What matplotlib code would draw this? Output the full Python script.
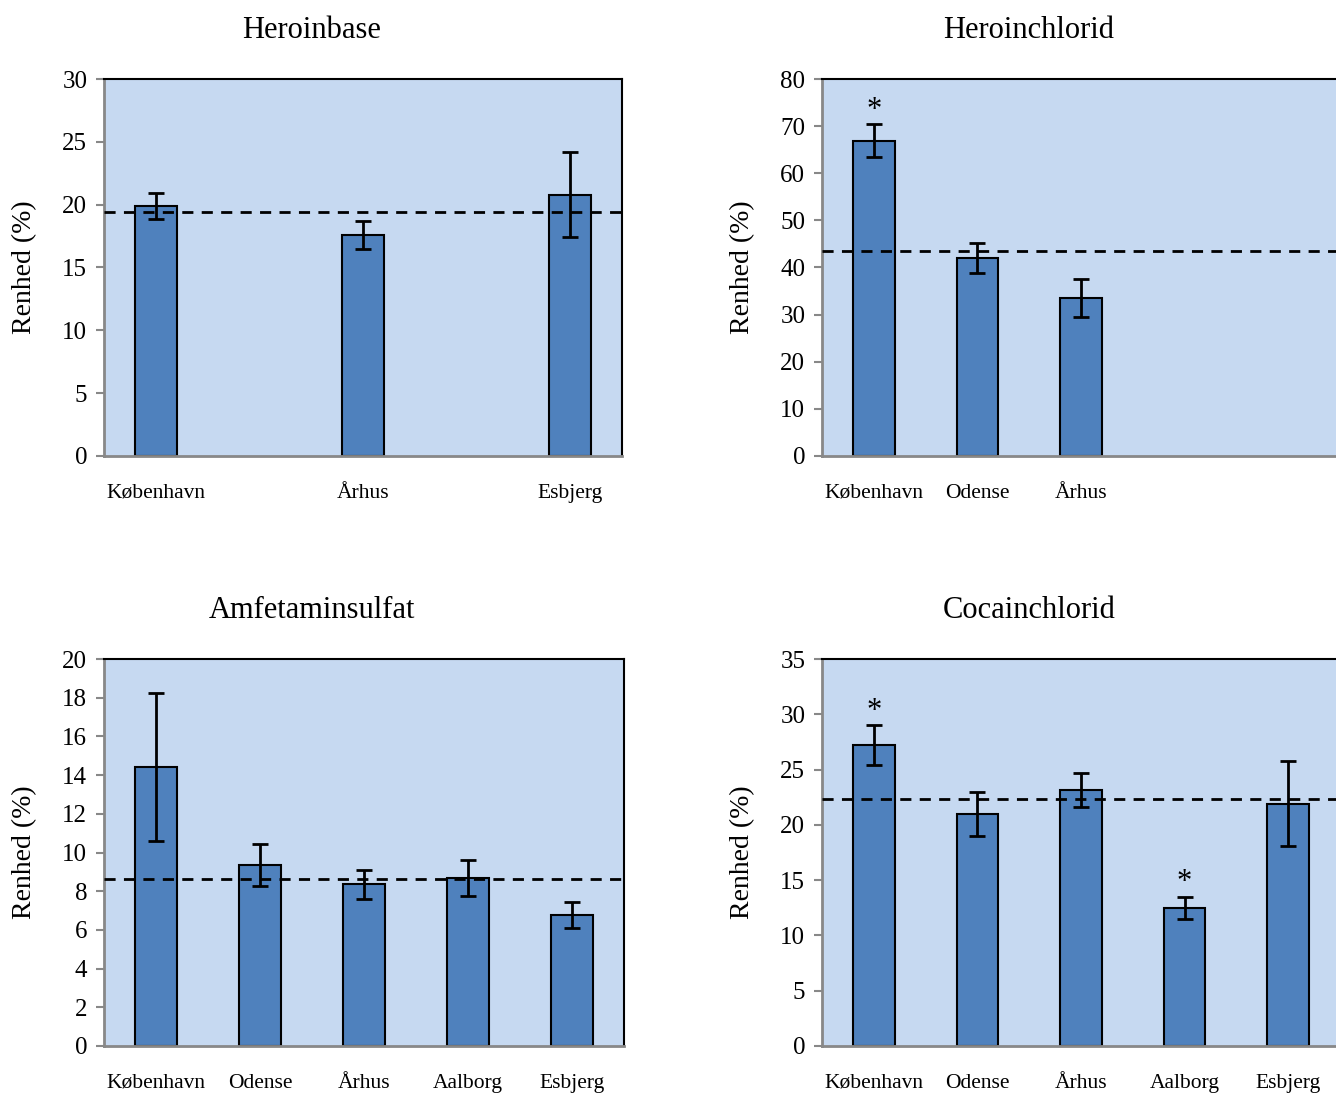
import matplotlib.pyplot as plt
import numpy as np

plt.rcParams['font.family'] = ['Liberation Serif', 'DejaVu Serif']

bar_color = '#4F81BD'
bg_color = '#C6D9F1'

# Heroinbase
hb_labels = ['København', '', 'Århus', '', 'Esbjerg']
hb_vals = [19.9, np.nan, 17.6, np.nan, 20.8]
hb_err = [1.05, 0, 1.1, 0, 3.4]
hb_mean = 19.4

# Heroinchlorid
hc_labels = ['København', 'Odense', 'Århus', '', '']
hc_vals = [66.9, 42.0, 33.5, np.nan, np.nan]
hc_err = [3.5, 3.2, 4.1, 0, 0]
hc_mean = 43.5
hc_star = [True, False, False, False, False]

# Amfetaminsulfat
am_labels = ['København', 'Odense', 'Århus', 'Aalborg', 'Esbjerg']
am_vals = [14.42, 9.35, 8.37, 8.68, 6.77]
am_err = [3.8, 1.1, 0.75, 0.95, 0.65]
am_mean = 8.63

# Cocainchlorid
cc_labels = ['København', 'Odense', 'Århus', 'Aalborg', 'Esbjerg']
cc_vals = [27.2, 21.0, 23.15, 12.5, 21.9]
cc_err = [1.8, 2.0, 1.55, 1.0, 3.85]
cc_mean = 22.3
cc_star = [True, False, False, True, False]

W, H = 1336, 1093
fig = plt.figure(figsize=(W / 100, H / 100), dpi=100)


def panel(px, title, title_xy, labels, vals, err, mean, ymax, step, stars=None):
    l, r, t, b = px
    ax = fig.add_axes([l / W, 1 - b / H, (r - l) / W, (b - t) / H])
    ax.set_facecolor(bg_color)
    x = np.arange(len(labels))
    ax.bar(x, vals, width=0.4, color=bar_color, edgecolor='black', linewidth=1.5, zorder=2)
    v = np.array(vals, dtype=float)
    e = np.array(err, dtype=float)
    ok = ~np.isnan(v)
    ax.errorbar(x[ok], v[ok], yerr=e[ok], fmt='none', ecolor='black',
                elinewidth=2, capsize=6, capthick=2, zorder=3)
    ax.axhline(mean, color='black', linestyle=(0, (4, 3)), linewidth=2, zorder=4)
    if stars:
        for i, s in enumerate(stars):
            if s:
                ax.annotate('*', (x[i], v[i] + e[i]), xytext=(0, 10), textcoords='offset points',
                            ha='center', va='center', fontsize=22)
    ax.set_xlim(-0.5, len(labels) - 0.5)
    ax.set_ylim(0, ymax)
    ax.set_yticks(np.arange(0, ymax + step / 2, step))
    ax.set_xticks(x)
    ax.set_xticklabels(labels, fontsize=15.5)
    ax.tick_params(axis='x', length=0, pad=20)
    ax.tick_params(axis='y', direction='out', length=6, width=1.5, color='#888888', labelsize=18, pad=6)
    for s in ['left', 'bottom']:
        ax.spines[s].set_color('#888888')
        ax.spines[s].set_linewidth(2)
    for s in ['top', 'right']:
        ax.spines[s].set_color('black')
        ax.spines[s].set_linewidth(1.5)
    ax.set_ylabel('Renhed (%)', fontsize=20, labelpad=18)
    fig.text(title_xy[0] / W, 1 - title_xy[1] / H, title, ha='center', va='center', fontsize=22)
    return ax


panel((104, 622, 79, 456), 'Heroinbase', (312, 30), hb_labels, hb_vals, hb_err, hb_mean, 30, 5)
panel((822, 1340, 79, 456), 'Heroinchlorid', (1029, 30), hc_labels, hc_vals, hc_err, hc_mean, 80, 10, hc_star)
panel((104, 624, 659, 1046), 'Amfetaminsulfat', (312, 610), am_labels, am_vals, am_err, am_mean, 20, 2)
panel((822, 1340, 659, 1046), 'Cocainchlorid', (1029, 610), cc_labels, cc_vals, cc_err, cc_mean, 35, 5, cc_star)

fig.savefig('out.png', dpi=100)
